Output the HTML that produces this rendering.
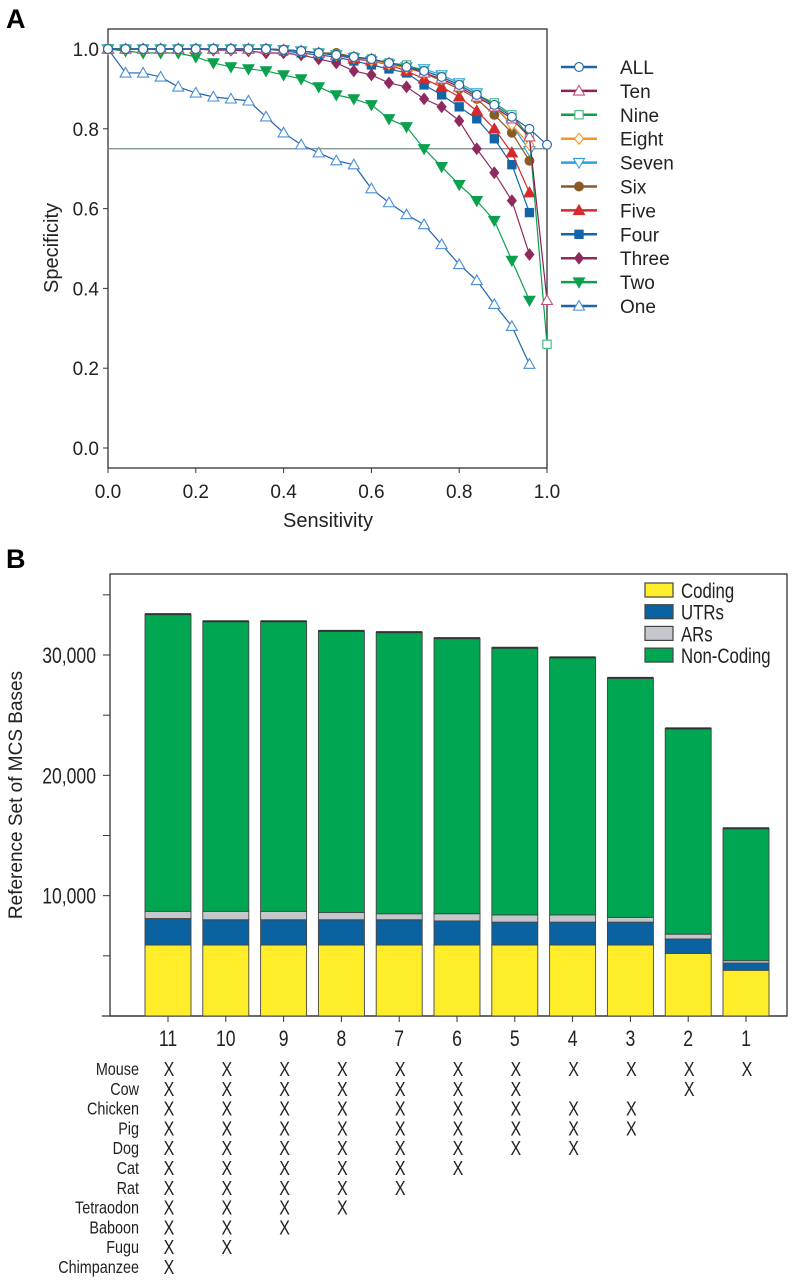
<!DOCTYPE html>
<html><head><meta charset="utf-8"><style>
html,body{margin:0;padding:0;background:#fff;}
svg{display:block;font-family:"Liberation Sans",sans-serif;}
</style></head><body>
<svg id="fig" width="803" height="1280" viewBox="0 0 803 1280" xmlns="http://www.w3.org/2000/svg">
<text x="6" y="28" font-size="27" font-weight="bold">A</text>
<text x="6" y="568" font-size="27" font-weight="bold">B</text>
<g id="ga"></g>
<g id="gb"></g>
</svg>
<script>
// ---------- Panel A data ----------
const sensX = [0,.04,.08,.12,.16,.2,.24,.28,.32,.36,.4,.44,.48,.52,.56,.6,.64,.68,.72,.76,.8,.84,.88,.92,.96];
const seriesNames = ["ALL","Ten","Nine","Eight","Seven","Six","Five","Four","Three","Two","One"];
const specAll   = [1,1,1,1,1,1,1,1,1,1,.998,.995,.99,.985,.98,.975,.965,.955,.945,.93,.91,.885,.86,.83,.80];
const specTen   = [1,1,1,1,1,1,1,1,1,1,.998,.995,.99,.985,.98,.975,.965,.955,.94,.925,.905,.88,.855,.825,.78];
const specNine  = [1,1,1,1,1,1,1,1,1,1,.998,.995,.99,.985,.98,.975,.965,.96,.945,.93,.91,.885,.865,.835,.78];
const specEight = [1,1,1,1,1,1,1,1,1,1,.998,.995,.99,.985,.98,.972,.962,.952,.94,.925,.905,.88,.86,.81,.76];
const specSeven = [1,1,1,1,1,1,1,1,1,1,.998,.995,.99,.985,.978,.97,.962,.955,.95,.935,.915,.89,.855,.81,.745];
const specSix   = [1,1,1,1,1,1,1,1,1,1,.998,.995,.99,.99,.98,.975,.965,.955,.94,.92,.90,.875,.835,.79,.72];
const specFive  = [1,1,1,1,1,1,1,1,1,1,.998,.995,.99,.985,.975,.97,.96,.945,.925,.905,.88,.845,.80,.74,.64];
const specFour  = [1,1,1,1,1,1,1,1,1,1,.995,.99,.985,.98,.97,.96,.95,.94,.91,.885,.855,.825,.775,.71,.59];
const specThree = [1,1,1,1,1,1,.997,.997,.995,.99,.99,.985,.975,.965,.945,.935,.915,.905,.875,.855,.82,.75,.69,.62,.485];
const specTwo   = [1,.995,.99,.99,.99,.98,.965,.955,.95,.945,.935,.925,.905,.885,.875,.86,.825,.805,.75,.705,.66,.62,.57,.47,.37];
const specOne   = [1,.94,.94,.93,.905,.89,.88,.875,.87,.83,.79,.76,.74,.72,.71,.65,.615,.585,.56,.51,.46,.42,.36,.305,.21];
const endX = 1.0;
const endAll = .76, endTen = .37, endNine = .26;
const tickA = [0,.2,.4,.6,.8,1.0];
const tickALabels = ["0.0","0.2","0.4","0.6","0.8","1.0"];
const cutoff = 0.75;

// ---------- Panel B data ----------
const groups = ["11","10","9","8","7","6","5","4","3","2","1"];
const coding    = [5900,5900,5900,5900,5900,5900,5900,5900,5900,5200,3800];
const utrs      = [2200,2100,2100,2100,2100,2000,1900,1900,1900,1200,600];
const ars       = [600,700,700,600,500,600,600,600,400,400,200];
const nonCoding = [24700,24100,24100,23400,23400,22900,22200,21400,19900,17100,11000];
const tickB = [10000,20000,30000];
const tickBLabels = ["10,000","20,000","30,000"];
const species = ["Mouse","Cow","Chicken","Pig","Dog","Cat","Rat","Tetraodon","Baboon","Fugu","Chimpanzee"];
const presence = [
 [1,1,1,1,1,1,1,1,1,1,1],
 [1,1,1,1,1,1,1,0,0,1,0],
 [1,1,1,1,1,1,1,1,1,0,0],
 [1,1,1,1,1,1,1,1,1,0,0],
 [1,1,1,1,1,1,1,1,0,0,0],
 [1,1,1,1,1,1,0,0,0,0,0],
 [1,1,1,1,1,0,0,0,0,0,0],
 [1,1,1,1,0,0,0,0,0,0,0],
 [1,1,1,0,0,0,0,0,0,0,0],
 [1,1,0,0,0,0,0,0,0,0,0],
 [1,0,0,0,0,0,0,0,0,0,0]];

const NS="http://www.w3.org/2000/svg";
const SQ=0.8;
function mk(tag, attrs, parent, txt){const e=document.createElementNS(NS,tag);for(const k in attrs)e.setAttribute(k,attrs[k]);if(txt!==undefined)e.textContent=txt;parent.appendChild(e);return e;}
function narrow(attrs,parent,txt){attrs.x=attrs.x/SQ;attrs.transform='scale('+SQ+',1)';return mk('text',attrs,parent,txt);}

// ---------- Panel A ----------
const ga=document.getElementById('ga');
const AX0=108, AX1=547, AY0=448, AY1=49;
const ax=v=>AX0+(AX1-AX0)*v;
const ay=v=>AY0+(AY1-AY0)*v;
let e=mk('rect',{x:AX0,y:29,width:AX1-AX0,height:468-29,fill:'none',stroke:'#333','stroke-width':1.3},ga);


tickA.forEach((t,i)=>{
  let l=mk('line',{x1:AX0-5,x2:AX0,y1:ay(t),y2:ay(t),stroke:'#333'},ga);
  
  
  let tx=mk('text',{x:AX0-9,y:ay(t)+7,'font-size':19,'text-anchor':'end',fill:'#222'},ga,tickALabels[i]);
  
  
  let l2=mk('line',{x1:ax(t),x2:ax(t),y1:468,y2:473,stroke:'#333'},ga);
  
  
  let tx2=mk('text',{x:ax(t),y:498,'font-size':19,'text-anchor':'middle',fill:'#222'},ga,tickALabels[i]);
  
  
});
e=mk('text',{x:328,y:527,'font-size':20,'text-anchor':'middle',fill:'#222'},ga,'Sensitivity');


e=mk('text',{x:58,y:248,'font-size':20,'text-anchor':'middle',fill:'#222',transform:'rotate(-90 58 248)'},ga,'Specificity');


e=mk('line',{x1:AX0,x2:AX1,y1:ay(cutoff),y2:ay(cutoff),stroke:'#7a8a8a','stroke-width':1.2},ga);



const sty = {
 ALL:{c:'#1f63a8',m:'circle',fill:'#fff',ms:'#1f63a8'},
 Ten:{c:'#8b2257',m:'tri',fill:'#fff',ms:'#c0507a'},
 Nine:{c:'#0aa14e',m:'square',fill:'#fff',ms:'#3cb878'},
 Eight:{c:'#f7941d',m:'diamond',fill:'#fff',ms:'#f7941d'},
 Seven:{c:'#2aa0dc',m:'dtri',fill:'#fff',ms:'#2aa0dc'},
 Six:{c:'#8c5a28',m:'circle',fill:'#8c5a28',ms:'#8c5a28'},
 Five:{c:'#d42a2e',m:'tri',fill:'#d42a2e',ms:'#d42a2e'},
 Four:{c:'#1465a5',m:'square',fill:'#1465a5',ms:'#1465a5'},
 Three:{c:'#8e2a5e',m:'diamond',fill:'#8e2a5e',ms:'#8e2a5e'},
 Two:{c:'#0aa14e',m:'dtri',fill:'#0aa14e',ms:'#0aa14e'},
 One:{c:'#2064ad',m:'tri',fill:'#fff',ms:'#4a8fd6'}
};
function marker(p,s,x,y,r){
  let el;
  if(s.m==='circle') el=mk('circle',{cx:x,cy:y,r:r*0.8},p);
  else if(s.m==='square') el=mk('rect',{x:x-r*0.75,y:y-r*0.75,width:r*1.5,height:r*1.5},p);
  else if(s.m==='tri') el=mk('polygon',{points:`${x},${y-r} ${x-r},${y+r*0.75} ${x+r},${y+r*0.75}`},p);
  else if(s.m==='dtri') el=mk('polygon',{points:`${x},${y+r} ${x-r},${y-r*0.75} ${x+r},${y-r*0.75}`},p);
  else el=mk('polygon',{points:`${x},${y-r} ${x+r*0.8},${y} ${x},${y+r} ${x-r*0.8},${y}`},p);
  el.setAttribute('fill',s.fill);el.setAttribute('stroke',s.ms);el.setAttribute('stroke-width',1.1);
  return el;
}
const seriesData=[specAll,specTen,specNine,specEight,specSeven,specSix,specFive,specFour,specThree,specTwo,specOne];
const seriesEnd=[endAll,endTen,endNine,null,null,null,null,null,null,null,null];
for(let i=seriesNames.length-1;i>=0;i--){
  const nm=seriesNames[i], s=sty[nm];
  const g=mk('g',{},ga);
  
  
  const pts=sensX.map((x,j)=>[ax(x),ay(seriesData[i][j])]);
  if(seriesEnd[i]!==null) pts.push([ax(endX),ay(seriesEnd[i])]);
  const pl=mk('polyline',{points:pts.map(p=>p.join(',')).join(' '),fill:'none',stroke:s.c,'stroke-width':1.2},g);
  
  
  pts.forEach(p=>{const m=marker(g,s,p[0],p[1],5.5);
    
    });
}
const lg=mk('g',{},ga);


seriesNames.forEach((nm,i)=>{
  const y=67+i*23.9, s=sty[nm];
  const g=mk('g',{},lg);
  
  
  mk('line',{x1:561,x2:597,y1:y,y2:y,stroke:s.c,'stroke-width':2.5},g);
  marker(g,s,579,y,5.5);
  mk('text',{x:620,y:y+7,'font-size':19,fill:'#222'},g,nm);
});

// ---------- Panel B ----------
const gb=document.getElementById('gb');
const BL=110,BR=787,BT=574,BB=1016;
const by=v=>BB-(BB-655)*v/30000;
const centers=groups.map((_,i)=>168+i*57.8);
e=mk('rect',{x:BL,y:BT,width:BR-BL,height:BB-BT,fill:'none',stroke:'#333','stroke-width':1.3},gb);


mk('line',{x1:102,x2:BR,y1:BB,y2:BB,stroke:'#333','stroke-width':1.3},gb);
[5000,10000,15000,20000,25000,30000,35000].forEach(t=>{
  const l=mk('line',{x1:103,x2:BL,y1:by(t),y2:by(t),stroke:'#333'},gb);
  
  
});
tickB.forEach((t,i)=>{
  const tx=narrow({x:96,y:by(t)+8,'font-size':22,'text-anchor':'end',fill:'#222'},gb,tickBLabels[i]);
  
  
});
e=mk('text',{x:22,y:795,'font-size':19,'text-anchor':'middle',fill:'#222',transform:'rotate(-90 22 795)'},gb,'Reference Set of MCS Bases');


const segCols=['#ffed29','#0a62a0','#c4c8cc','#00a651'];
const segNames=['coding','utrs','ars','non-coding'];
const segData=[coding,utrs,ars,nonCoding];
groups.forEach((gname,i)=>{
  const cx=centers[i], w=46;
  let base=0;
  const g=mk('g',{},gb);
  
  
  segData.forEach((arr,k)=>{
    const v=arr[i];
    const r=mk('rect',{x:cx-w/2,y:by(base+v),width:w,height:by(base)-by(base+v),fill:segCols[k],stroke:'#444','stroke-width':0.9},g);
    
    
    base+=v;
  });
  mk('line',{x1:cx-w/2,x2:cx+w/2,y1:by(base),y2:by(base),stroke:'#333','stroke-width':2},g);
  const tk=mk('line',{x1:cx,x2:cx,y1:BB,y2:BB+6,stroke:'#333'},gb);
  
  
  const tl=narrow({x:cx,y:1046,'font-size':22,'text-anchor':'middle',fill:'#222'},gb,gname);
  
  
});
const lb=mk('g',{},gb);


['Coding','UTRs','ARs','Non-Coding'].forEach((nm,i)=>{
  const y=590+i*21.7;
  const g=mk('g',{},lb);
  
  
  mk('rect',{x:645,y:y-7,width:28,height:14,fill:segCols[i],stroke:'#444','stroke-width':1.2},g);
  narrow({x:681,y:y+8,'font-size':21,fill:'#222'},g,nm);
});
const tb=mk('g',{},gb);


species.forEach((sp,r)=>{
  const y=1069+r*19.8;
  const t=narrow({x:139,y:y+6,'font-size':18,'text-anchor':'end',fill:'#222'},tb,sp);
  
  
  presence[r].forEach((p,c)=>{
    if(!p) return;
    const x=narrow({x:centers[c]+1,y:y+7,'font-size':20,'text-anchor':'middle',fill:'#222'},tb,'X');
    
    
  });
});
</script>
</body></html>
